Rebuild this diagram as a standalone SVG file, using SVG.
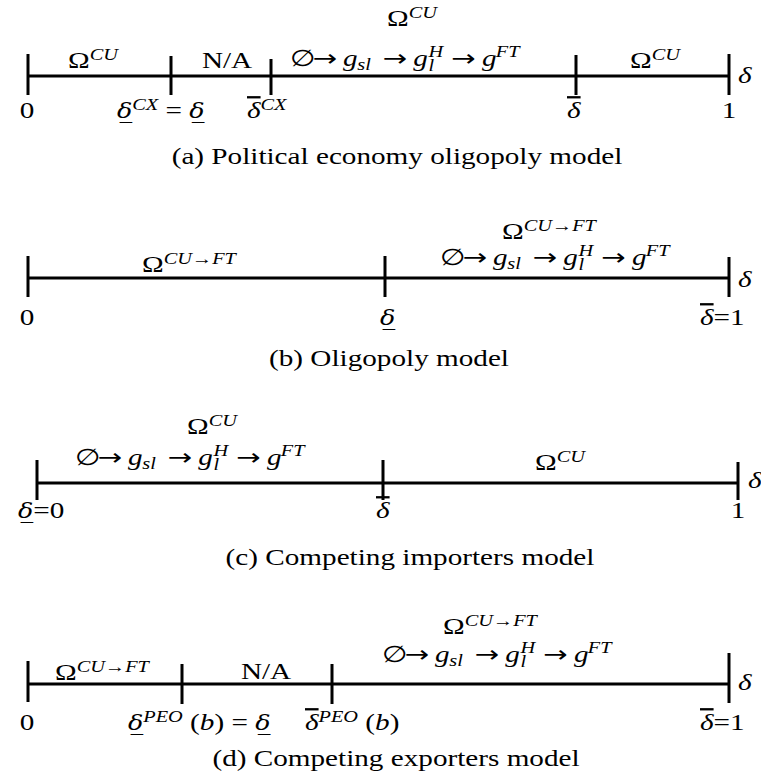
<svg xmlns="http://www.w3.org/2000/svg" width="761" height="781" viewBox="0 0 761 781">
<style>
.ln{stroke:#000;stroke-width:3;fill:none}
text{font-family:"Liberation Serif","Times New Roman",serif;font-size:23px;fill:#000}
.m{text-anchor:middle}
.i{font-style:italic}
.o{font-style:italic;text-decoration:overline}
.s{font-size:16px;font-style:italic}
.d{font-family:"DejaVu Serif",serif;font-size:20px;font-style:italic}
.a{font-family:"DejaVu Sans",sans-serif;font-size:23px}
</style>
<rect width="761" height="781" fill="#fff"/>
<g id="panel-a">
<g class="ln"><path d="M28 76H729M28 54V95M171 56V95M271 59V95M576 55V95M729 54V95"/></g>
<text transform="translate(68,68) scale(1.27,1)">&#x3A9;<tspan class="s" dy="-8">CU</tspan></text>
<text class="m" transform="translate(227,68) scale(1.27,1)">N/A</text>
<text transform="translate(387,26) scale(1.27,1)">&#x3A9;<tspan class="s" dy="-8">CU</tspan></text>
<text transform="translate(290,66) scale(1.27,1)">&#x2205;<tspan class="a" x="18">&#x2192;</tspan><tspan class="i" x="41.7">g</tspan><tspan class="s" x="53" dy="4">sl</tspan><tspan class="a" x="73" dy="-4">&#x2192;</tspan><tspan class="i" x="97">g</tspan><tspan class="s" x="109" dy="5">l</tspan><tspan class="s" x="109" dy="-14">H</tspan><tspan class="a" x="127" dy="9">&#x2192;</tspan><tspan class="i" x="151.2">g</tspan><tspan class="s" x="162" dy="-9">FT</tspan></text>
<text transform="translate(630,68) scale(1.27,1)">&#x3A9;<tspan class="s" dy="-8">CU</tspan></text>
<text class="i" transform="translate(738,83) scale(1.27,1)">&#x3B4;</text>
<text class="m" transform="translate(27,118) scale(1.27,1)">0</text>
<text transform="translate(117,118) scale(1.27,1)"><tspan class="d">&#x3B4;&#x332;</tspan><tspan class="s" dy="-8">CX</tspan><tspan dy="8"> = </tspan><tspan class="d">&#x3B4;&#x332;</tspan></text>
<text transform="translate(247,118) scale(1.27,1)"><tspan class="o">&#x3B4;</tspan><tspan class="s" dy="-8">CX</tspan></text>
<text transform="translate(567,118) scale(1.27,1)"><tspan class="o">&#x3B4;</tspan></text>
<text class="m" transform="translate(729,118) scale(1.27,1)">1</text>
<text class="m" transform="translate(397,164) scale(1.27,1)">(a) Political economy oligopoly model</text>
</g>
<g id="panel-b">
<g class="ln"><path d="M28 278H729M28 256V297M385 256V297M729 257V297"/></g>
<text transform="translate(142,272) scale(1.27,1)">&#x3A9;<tspan class="s" dy="-8">CU&#x2192;FT</tspan></text>
<text transform="translate(502,239) scale(1.27,1)">&#x3A9;<tspan class="s" dy="-8">CU&#x2192;FT</tspan></text>
<text transform="translate(440,265) scale(1.27,1)">&#x2205;<tspan class="a" x="18">&#x2192;</tspan><tspan class="i" x="41.7">g</tspan><tspan class="s" x="53" dy="4">sl</tspan><tspan class="a" x="73" dy="-4">&#x2192;</tspan><tspan class="i" x="97">g</tspan><tspan class="s" x="109" dy="5">l</tspan><tspan class="s" x="109" dy="-14">H</tspan><tspan class="a" x="127" dy="9">&#x2192;</tspan><tspan class="i" x="151.2">g</tspan><tspan class="s" x="162" dy="-9">FT</tspan></text>
<text class="i" transform="translate(738,287) scale(1.27,1)">&#x3B4;</text>
<text class="m" transform="translate(27,325) scale(1.27,1)">0</text>
<text class="d" transform="translate(380,325) scale(1.27,1)">&#x3B4;&#x332;</text>
<text transform="translate(700,325) scale(1.27,1)"><tspan class="o">&#x3B4;</tspan>=1</text>
<text class="m" transform="translate(389,366) scale(1.27,1)">(b) Oligopoly model</text>
</g>
<g id="panel-c">
<g class="ln"><path d="M37 483H738M37 460V500M383 460V500M738 462V500"/></g>
<text transform="translate(187,434) scale(1.27,1)">&#x3A9;<tspan class="s" dy="-8">CU</tspan></text>
<text transform="translate(75,465) scale(1.27,1)">&#x2205;<tspan class="a" x="18">&#x2192;</tspan><tspan class="i" x="41.7">g</tspan><tspan class="s" x="53" dy="4">sl</tspan><tspan class="a" x="73" dy="-4">&#x2192;</tspan><tspan class="i" x="97">g</tspan><tspan class="s" x="109" dy="5">l</tspan><tspan class="s" x="109" dy="-14">H</tspan><tspan class="a" x="127" dy="9">&#x2192;</tspan><tspan class="i" x="151.2">g</tspan><tspan class="s" x="162" dy="-9">FT</tspan></text>
<text transform="translate(535,470) scale(1.27,1)">&#x3A9;<tspan class="s" dy="-8">CU</tspan></text>
<text class="i" transform="translate(748,488) scale(1.27,1)">&#x3B4;</text>
<text transform="translate(18,518) scale(1.27,1)"><tspan class="d">&#x3B4;&#x332;</tspan>=0</text>
<text transform="translate(376,518) scale(1.27,1)"><tspan class="o">&#x3B4;</tspan></text>
<text class="m" transform="translate(738,518) scale(1.27,1)">1</text>
<text class="m" transform="translate(410,565) scale(1.27,1)">(c) Competing importers model</text>
</g>
<g id="panel-d">
<g class="ln"><path d="M28 684H729M28 661V702M182 664V704M332 664V704M729 653V703"/></g>
<text transform="translate(55,680) scale(1.27,1)">&#x3A9;<tspan class="s" dy="-8">CU&#x2192;FT</tspan></text>
<text class="m" transform="translate(266,679) scale(1.27,1)">N/A</text>
<text transform="translate(443,634) scale(1.27,1)">&#x3A9;<tspan class="s" dy="-8">CU&#x2192;FT</tspan></text>
<text transform="translate(382,662) scale(1.27,1)">&#x2205;<tspan class="a" x="18">&#x2192;</tspan><tspan class="i" x="41.7">g</tspan><tspan class="s" x="53" dy="4">sl</tspan><tspan class="a" x="73" dy="-4">&#x2192;</tspan><tspan class="i" x="97">g</tspan><tspan class="s" x="109" dy="5">l</tspan><tspan class="s" x="109" dy="-14">H</tspan><tspan class="a" x="127" dy="9">&#x2192;</tspan><tspan class="i" x="151.2">g</tspan><tspan class="s" x="162" dy="-9">FT</tspan></text>
<text class="i" transform="translate(738,690) scale(1.27,1)">&#x3B4;</text>
<text class="m" transform="translate(27,730) scale(1.27,1)">0</text>
<text transform="translate(128,730) scale(1.27,1)"><tspan class="d">&#x3B4;&#x332;</tspan><tspan class="s" dy="-8">PEO</tspan><tspan dy="8"> (</tspan><tspan class="i">b</tspan>) = <tspan class="d">&#x3B4;&#x332;</tspan></text>
<text transform="translate(305,730) scale(1.27,1)"><tspan class="o">&#x3B4;</tspan><tspan class="s" dy="-8">PEO</tspan><tspan dy="8"> (</tspan><tspan class="i">b</tspan>)</text>
<text transform="translate(700,730) scale(1.27,1)"><tspan class="o">&#x3B4;</tspan>=1</text>
<text class="m" transform="translate(396,766) scale(1.27,1)">(d) Competing exporters model</text>
</g>
</svg>
